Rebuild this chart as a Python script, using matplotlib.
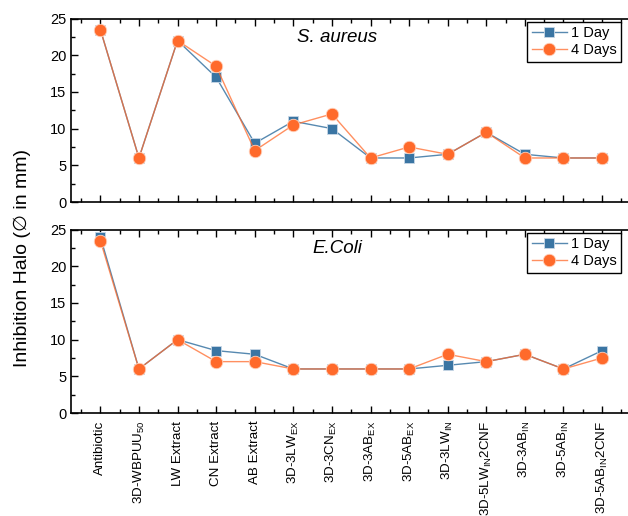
import numpy as np
import matplotlib
matplotlib.use('Agg')
import matplotlib.pyplot as plt
from matplotlib.colors import to_rgba
from matplotlib.ticker import MultipleLocator

plt.rcParams['font.family'] = ['Liberation Sans', 'DejaVu Sans']
plt.rcParams['mathtext.default'] = 'regular'

# data
samples = ['Antibiotic', '3D-WBPUU$_{50}$', 'LW Extract', 'CN Extract', 'AB Extract',
           '3D-3LW$_{EX}$', '3D-3CN$_{EX}$', '3D-3AB$_{EX}$', '3D-5AB$_{EX}$',
           '3D-3LW$_{IN}$', '3D-5LW$_{IN}$2CNF', '3D-3AB$_{IN}$', '3D-5AB$_{IN}$',
           '3D-5AB$_{IN}$2CNF']
aureus_1day = [23.5, 6, 22, 17, 8, 11, 10, 6, 6, 6.5, 9.5, 6.5, 6, 6]
aureus_4days = [23.5, 6, 22, 18.5, 7, 10.5, 12, 6, 7.5, 6.5, 9.5, 6, 6, 6]
coli_1day = [24, 6, 10, 8.5, 8, 6, 6, 6, 6, 6.5, 7, 8, 6, 8.5]
coli_4days = [23.5, 6, 10, 7, 7, 6, 6, 6, 6, 8, 7, 8, 6, 7.5]

blue = '#3a75a3'
orange = '#ff6a2b'

fig = plt.figure(figsize=(6.28, 5.16), dpi=100)
ax1 = fig.add_axes([0.1131, 0.6085, 0.8917, 0.3556])
ax2 = fig.add_axes([0.1131, 0.1996, 0.8917, 0.3556])

x = np.arange(len(samples))

for ax, d1, d4, name in [(ax1, aureus_1day, aureus_4days, 'S. aureus'),
                         (ax2, coli_1day, coli_4days, 'E.Coli')]:
    # line colours slightly transparent, markers solid
    ax.plot(x, d1, color=to_rgba(blue, 0.85), lw=1.0, marker='s', ms=7,
            mfc=blue, mec='#c9d8e6', mew=0.6, label='1 Day')
    ax.plot(x, d4, color=to_rgba(orange, 0.75), lw=1.0, marker='o', ms=9,
            mfc=orange, mec='#ffd2bd', mew=0.6, label='4 Days')
    ax.set_xlim(-0.76, 13.75)
    ax.set_ylim(0, 25)
    ax.set_xticks(x)
    ax.xaxis.set_minor_locator(MultipleLocator(0.5))
    ax.yaxis.set_major_locator(MultipleLocator(5))
    ax.yaxis.set_minor_locator(MultipleLocator(2.5))
    ax.tick_params(which='both', direction='in', top=True, right=False, labelsize=10.5)
    ax.tick_params(which='major', length=5, width=1)
    ax.tick_params(which='minor', length=3, width=1)
    for s in ax.spines.values():
        s.set_linewidth(1.2)
    ax.text(0.475, 0.895, name, transform=ax.transAxes, ha='center', va='center',
            fontsize=13.5, style='italic')
    ax.legend(loc='upper right', bbox_to_anchor=(621 / 628, 1 - (22 if ax is ax1 else 233) / 516),
              bbox_transform=fig.transFigure, fancybox=False, edgecolor='black',
              framealpha=1, fontsize=10.5, handlelength=2.4, borderpad=0.3,
              labelspacing=0.2, handletextpad=0.3, borderaxespad=0)

ax1.set_xticklabels([])
ax2.set_xticklabels(samples, rotation=90, fontsize=9.6)
ax2.tick_params(axis='x', which='major', pad=5.5)

fig.text(0.035, 0.5, 'Inhibition Halo (\u2205 in mm)', rotation=90, ha='center',
         va='center', fontsize=14)

fig.savefig('out.png', dpi=100)
